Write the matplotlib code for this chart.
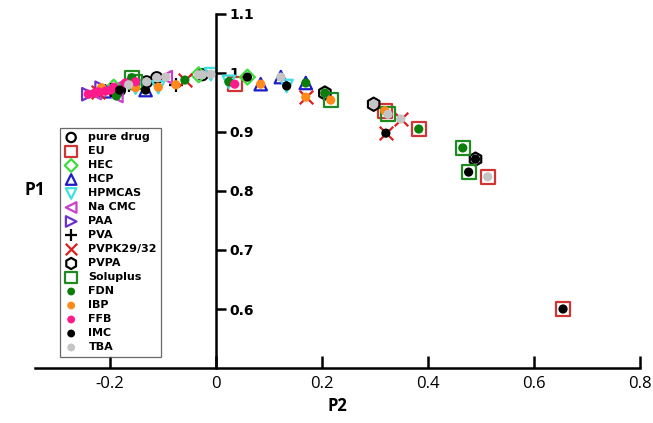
import matplotlib
matplotlib.use("Agg")
import matplotlib.pyplot as plt
from matplotlib.ticker import FuncFormatter

# P2 / P1 coordinates of each drug-polymer system
p2 = [-0.240, -0.228, -0.221, -0.215, -0.208, -0.198, -0.192, -0.181, -0.187, -0.170,
      -0.164, -0.158, -0.151, -0.151, -0.132, -0.130, -0.111, -0.108, -0.094, -0.075,
      -0.058, -0.032, -0.025, -0.009, 0.025, 0.036, 0.060, 0.085, 0.123, 0.134,
      0.170, 0.170, 0.206, 0.217, 0.298, 0.319, 0.325, 0.349, 0.321, 0.383,
      0.466, 0.490, 0.477, 0.513, 0.655]
p1 = [0.964, 0.966, 0.968, 0.975, 0.969, 0.971, 0.976, 0.971, 0.961, 0.983,
      0.980, 0.992, 0.985, 0.975, 0.971, 0.985, 0.992, 0.976, 0.993, 0.980,
      0.988, 0.997, 0.997, 0.998, 0.985, 0.981, 0.993, 0.981, 0.993, 0.978,
      0.983, 0.959, 0.966, 0.954, 0.947, 0.936, 0.930, 0.922, 0.898, 0.905,
      0.873, 0.854, 0.832, 0.824, 0.600]
drug = ["FFB", "FFB", "FFB", "IBP", "FFB", "FFB", "FFB", "IMC", "FDN", "FFB",
        "TBA", "FDN", "FFB", "IBP", "IMC", "TBA", "TBA", "IBP", "TBA", "IBP",
        "FDN", "TBA", "TBA", "TBA", "FDN", "FFB", "IMC", "IBP", "TBA", "IMC",
        "FDN", "IBP", "FDN", "IBP", "TBA", "IBP", "TBA", "TBA", "IMC", "FDN",
        "FDN", "IMC", "IMC", "TBA", "IMC"]
polymer = ["PAA", "Na CMC", "PVPK29/32", "PAA", "HCP", "PVA", "HEC", "pure drug", "Na CMC", "Na CMC",
           "PVA", "Soluplus", "Soluplus", "HPMCAS", "HCP", "pure drug", "pure drug", "HPMCAS", "Na CMC", "PVA",
           "PVPK29/32", "HEC", "pure drug", "HPMCAS", "HPMCAS", "EU", "HEC", "HCP", "HCP", "HPMCAS",
           "HCP", "PVPK29/32", "PVPA", "Soluplus", "PVPA", "EU", "Soluplus", "PVPK29/32", "PVPK29/32", "EU",
           "Soluplus", "PVPA", "Soluplus", "EU", "EU"]

polymers = ["pure drug", "EU", "HEC", "HCP", "HPMCAS", "Na CMC", "PAA", "PVA",
            "PVPK29/32", "PVPA", "Soluplus"]
poly_marker = {"pure drug": "o", "EU": "s", "HEC": "D", "HCP": "^", "HPMCAS": "v",
               "Na CMC": "<", "PAA": ">", "PVA": "+", "PVPK29/32": "x", "PVPA": "h",
               "Soluplus": "s"}
poly_color = {"pure drug": "black", "EU": "#d03535", "HEC": "#3ddc3d", "HCP": "#1c1cc8",
              "HPMCAS": "#3ee0e0", "Na CMC": "#cc3fcc", "PAA": "#6a30d0", "PVA": "black",
              "PVPK29/32": "#dd2020", "PVPA": "black", "Soluplus": "#1f8a1f"}
poly_size = {"pure drug": 62, "EU": 100, "HEC": 58, "HCP": 80, "HPMCAS": 80, "Na CMC": 80,
             "PAA": 80, "PVA": 100, "PVPK29/32": 95, "PVPA": 90, "Soluplus": 100}

drugs = ["FDN", "IBP", "FFB", "IMC", "TBA"]
drug_color = {"FDN": "#0b7d0b", "IBP": "#ff8a1c", "FFB": "#ff1a8c", "IMC": "black", "TBA": "#c4c4c4"}

plt.rcParams['axes.unicode_minus'] = False

fig = plt.figure(figsize=(6.53, 4.23), dpi=100)
ax = fig.add_axes([0.054, 0.13, 0.926, 0.837])

for pol in polymers:
    idx = [i for i, p in enumerate(polymer) if p == pol]
    xs = [p2[i] for i in idx]
    ys = [p1[i] for i in idx]
    m = poly_marker[pol]
    if m in ("+", "x"):
        ax.scatter(xs, ys, s=poly_size[pol], marker=m, color=poly_color[pol],
                   linewidths=1.6, label=pol, zorder=2)
    else:
        ax.scatter(xs, ys, s=poly_size[pol], marker=m, facecolors="none",
                   edgecolors=poly_color[pol], linewidths=1.6, label=pol, zorder=2)

for d in drugs:
    idx = [i for i, x in enumerate(drug) if x == d]
    ax.scatter([p2[i] for i in idx], [p1[i] for i in idx], s=44, marker="o",
               color=drug_color[d], edgecolors="none", label=d, zorder=3)

ax.set_xlim(-0.34, 0.8)
ax.set_ylim(0.5, 1.1)

ax.spines["top"].set_visible(False)
ax.spines["left"].set_visible(False)
ax.spines["right"].set_position(("data", 0))
ax.spines["right"].set_linewidth(1.8)
ax.spines["bottom"].set_linewidth(1.8)
ax.yaxis.tick_right()
ax.set_yticks([0.6, 0.7, 0.8, 0.9, 1.0, 1.1])
ax.set_xticks([-0.2, 0, 0.2, 0.4, 0.6, 0.8])
fmt = FuncFormatter(lambda v, pos: "%g" % round(v, 2))
ax.xaxis.set_major_formatter(fmt)
ax.yaxis.set_major_formatter(fmt)
ax.tick_params(axis="y", direction="out", length=7, width=1.8, pad=3)
ax.tick_params(axis="x", direction="in", length=9, width=1.8, pad=6)
for lab in ax.get_yticklabels():
    lab.set_fontweight("bold")
    lab.set_fontsize(10)
    lab.set_family("DejaVu Sans")
for lab in ax.get_xticklabels():
    lab.set_fontsize(12)
    lab.set_family("Open Sans")

ax.set_xlabel("P2", fontsize=12, fontweight="bold", family="Open Sans", labelpad=3)
fig.text(35 / 653, 1 - 190 / 423, "P1", fontsize=12.5, fontweight="bold",
         family="Open Sans", ha="center", va="center")

leg = ax.legend(loc="upper left", bbox_to_anchor=(0.041, 0.678), borderaxespad=0,
                frameon=True, fancybox=False, edgecolor="#444444",
                prop={"weight": "bold", "size": 8},
                labelspacing=0.36, handletextpad=0.95, handlelength=1.2,
                borderpad=0.4, markerscale=0.85)
leg.get_frame().set_linewidth(0.9)

fig.savefig("out.png", dpi=100)
